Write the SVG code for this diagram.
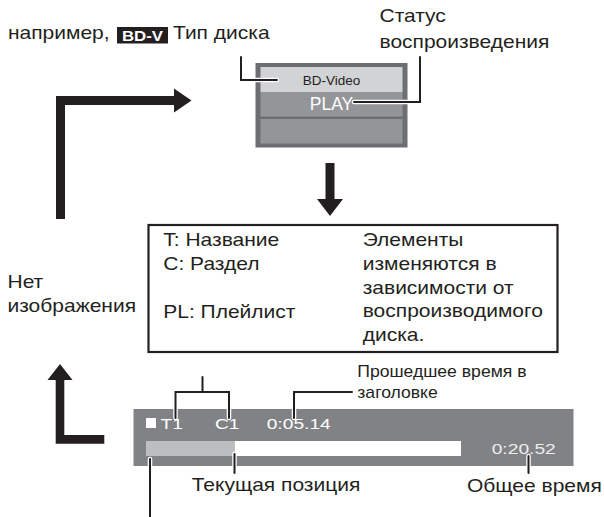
<svg xmlns="http://www.w3.org/2000/svg" width="604" height="517" viewBox="0 0 604 517">
<defs>
<style>
text{font-family:"Liberation Sans",Arial,sans-serif;}
.t{font-size:17.5px;fill:#231f20;}
.sm{font-size:16px;fill:#231f20;}
.scr{font-size:15px;fill:#ffffff;}
.halo{fill:none;stroke:#ffffff;stroke-width:4.5;stroke-linecap:round;stroke-linejoin:miter;}
.ld{fill:none;stroke:#231f20;stroke-width:2;stroke-linecap:round;stroke-linejoin:miter;}
.arr{fill:#231f20;}
</style>
</defs>
<rect width="604" height="517" fill="#ffffff"/>

<g id="label-disc-type">
<text class="t" transform="translate(8 38.5) scale(1.2 1)">например,</text>
<rect x="117" y="27" width="51" height="16.5" fill="#231f20"/>
<text transform="translate(142.5 41) scale(1.12 1)" text-anchor="middle" font-weight="bold" font-size="15" fill="#ffffff">BD-V</text>
<text class="t" transform="translate(173 38.5) scale(1.2 1)">Тип диска</text>
</g>

<g id="label-play-status">
<text class="t" transform="translate(379.5 22) scale(1.2 1)">Статус</text>
<text class="t" transform="translate(379.5 48) scale(1.2 1)">воспроизведения</text>
</g>

<g id="status-screen">
<rect x="255.5" y="63" width="152" height="84.5" fill="#6d6e71"/>
<rect x="260.5" y="67" width="142" height="25" fill="#d1d3d4"/>
<rect x="260.5" y="92" width="142" height="24.5" fill="#939598"/>
<rect x="260.5" y="119" width="142" height="24.5" fill="#939598"/>
<text x="331.5" y="85" text-anchor="middle" font-size="13.5" fill="#231f20">BD-Video</text>
<text x="331.5" y="109.5" text-anchor="middle" font-size="17.5" fill="#ffffff">PLAY</text>
</g>

<g id="info-box">
<rect x="148.5" y="225" width="409" height="127" fill="#ffffff" stroke="#231f20" stroke-width="2.2"/>
<text class="t" transform="translate(163.3 246) scale(1.2 1)">T: Название</text>
<text class="t" transform="translate(163.3 270) scale(1.2 1)">C: Раздел</text>
<text class="t" transform="translate(163.3 318.3) scale(1.2 1)">PL: Плейлист</text>
<text class="t" transform="translate(362.7 246) scale(1.2 1)">Элементы</text>
<text class="t" transform="translate(362.7 269.8) scale(1.2 1)">изменяются в</text>
<text class="t" transform="translate(362.7 293.5) scale(1.2 1)">зависимости от</text>
<text class="t" transform="translate(362.7 317.3) scale(1.2 1)">воспроизводимого</text>
<text class="t" transform="translate(362.7 341) scale(1.2 1)">диска.</text>
</g>

<g id="label-no-display">
<text class="t" transform="translate(7.5 288) scale(1.2 1)">Нет</text>
<text class="t" transform="translate(7.5 312) scale(1.2 1)">изображения</text>
</g>

<g id="progress-screen">
<rect x="133.5" y="409" width="440" height="57" fill="#808285"/>
<rect x="146" y="441" width="89" height="15" fill="#bcbec0"/>
<rect x="235" y="441" width="226" height="15" fill="#ffffff"/>
<rect x="146" y="418" width="10" height="10" fill="#ffffff"/>
<text class="scr" transform="translate(160.5 429) scale(1.28 1)">T1</text>
<text class="scr" transform="translate(215 429) scale(1.28 1)">C1</text>
<text class="scr" transform="translate(266.7 429) scale(1.28 1)">0:05.14</text>
<text class="scr" transform="translate(491.7 454) scale(1.28 1)" style="fill:#eeeeee">0:20.52</text>
</g>

<g id="label-elapsed">
<text class="sm" transform="translate(357.3 376.7) scale(1.1 1)">Прошедшее время в</text>
<text class="sm" transform="translate(357.3 398.3) scale(1.1 1)">заголовке</text>
</g>

<g id="label-current">
<text class="t" transform="translate(191.7 490.7) scale(1.2 1)">Текущая позиция</text>
</g>

<g id="label-total">
<text class="t" transform="translate(467 491.7) scale(1.2 1)">Общее время</text>
</g>

<g id="connectors">
<polygon class="arr" points="56,219 56,96 174,96 174,88.5 191.5,100.5 174,112.5 174,105 65,105 65,219"/>
<polygon class="arr" points="325.5,163 334.5,163 334.5,199 343,199 330,216 317,199 325.5,199"/>
<polygon class="arr" points="60,364 72.5,380 64.3,380 64.3,435 104.3,435 104.3,443.7 55.7,443.7 55.7,380 47.5,380"/>
<path class="halo" d="M241,57 V80 H277"/>
<path class="ld" d="M241,57 V80 H277"/>
<path class="halo" d="M420,57 V102 H354"/>
<path class="ld" d="M420,57 V102 H354"/>
<path class="halo" d="M175.5,418 V392 H229 V418 M202.5,392 V377"/>
<path class="ld" d="M175.5,418 V392 H229 V418 M202.5,392 V377"/>
<path class="halo" d="M294,418 V392 H352"/>
<path class="ld" d="M294,418 V392 H352"/>
<path class="halo" d="M234.5,454 V473"/>
<path class="ld" d="M234.5,454 V473"/>
<path class="halo" d="M528.5,456 V473"/>
<path class="ld" d="M528.5,456 V473"/>
<path class="halo" d="M150,459 V517"/>
<path class="ld" d="M150,459 V517"/>
</g>
</svg>
